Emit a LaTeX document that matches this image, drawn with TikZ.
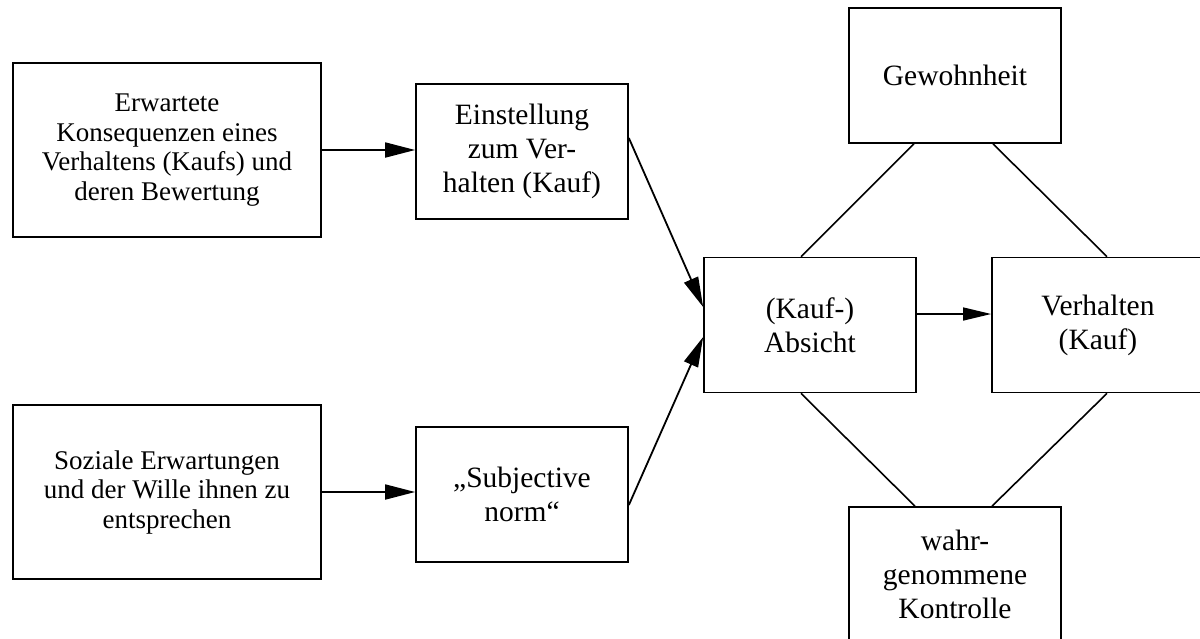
\documentclass[tikz,border=0pt]{standalone}
\usepackage{fontspec}
\setmainfont{Liberation Serif}
\usetikzlibrary{arrows.meta,calc}
\begin{document}
\begin{tikzpicture}[x=1pt,y=-1pt,
  box/.style={draw,line width=1.7pt,rectangle,inner sep=0pt,align=center,
    minimum width=212pt,minimum height=135pt,font=\fontsize{29.5}{34}\selectfont},
  smallbox/.style={box,minimum width=308pt,minimum height=174pt,font=\fontsize{27}{29.5}\selectfont},
  arr/.style={line width=1.8pt,-{Triangle[length=30pt,width=15pt]}},
  thinarr/.style={line width=1.4pt,-{Triangle[length=28pt,width=13pt]}},
  ln/.style={line width=1.6pt}]
\useasboundingbox (0,0) rectangle (1200,638);
\clip (0,0) rectangle (1200,638);
\node[smallbox] (b1) at (167,150) {Erwartete\\Konsequenzen eines\\Verhaltens (Kaufs) und\\deren Bewertung};
\node[box] (b2) at (522,151.5) {Einstellung\\zum Ver-\\halten (Kauf)};
\node[smallbox] (b3) at (167,492) {Soziale Erwartungen\\und der Wille ihnen zu\\entsprechen};
\node[box] (b4) at (522,494.5) {„Subjective\\norm“};
\node[box] (ab) at (810,325) {(Kauf-)\\Absicht};
\node[box] (vh) at (1098,325) {Verhalten\\(Kauf)};
\node[box] (gw) at (955,75.5) {Gewohnheit};
\node[box] (ko) at (955,574.5) {wahr-\\genommene\\Kontrolle};
\draw[arr] (b1.east) -- (b1.east -| b2.west);
\draw[arr] (b3.east) -- (b3.east -| b4.west);
\draw[arr] ($(b2.east)+(0,-13.5)$) -- ($(ab.west)+(0,-18)$);
\draw[arr] ($(b4.east)+(0,10.5)$) -- ($(ab.west)+(0,12)$);
\draw[thinarr] ($(ab.east)+(0,-11)$) -- ($(vh.west)+(0,-11)$);
\draw[ln] ($(gw.south)+(-41,0)$) -- ($(ab.north)+(-9,0)$);
\draw[ln] ($(gw.south)+(38,0)$) -- ($(vh.north)+(9,0)$);
\draw[ln] ($(ab.south)+(-9,0)$) -- ($(ko.north)+(-40,0)$);
\draw[ln] ($(vh.south)+(9,0)$) -- ($(ko.north)+(37,0)$);
\end{tikzpicture}
\end{document}
